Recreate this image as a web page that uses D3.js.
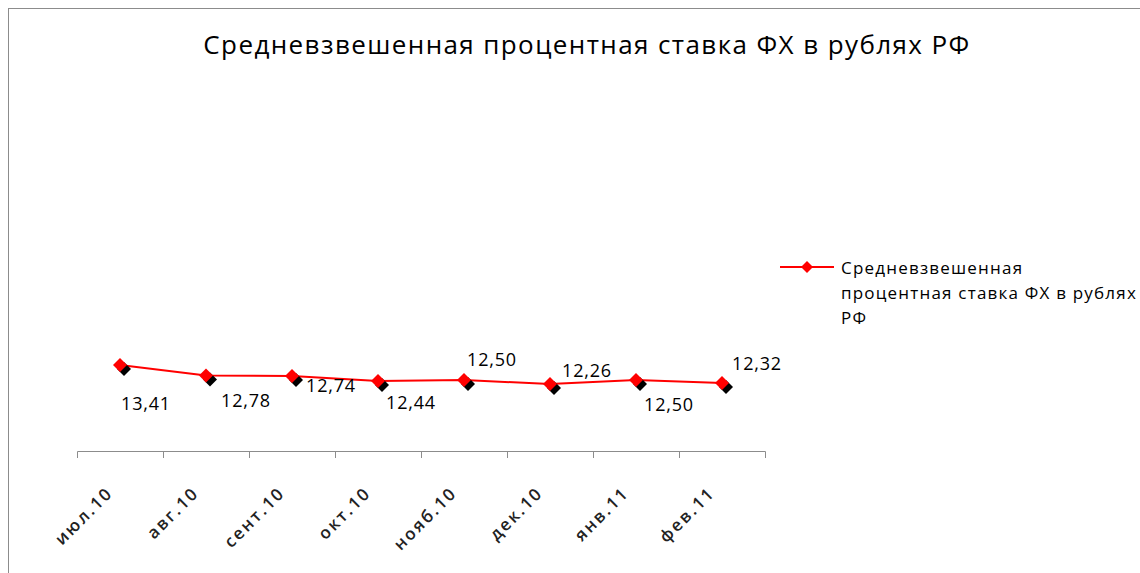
<!DOCTYPE html>
<html>
<head>
<meta charset="utf-8">
<script src="https://cdn.jsdelivr.net/npm/d3@7"></script>
<style>
  body { margin: 0; background: #fff; }
  svg { display: block; font-family: "Open Sans", sans-serif; }
</style>
</head>
<body>
<svg></svg>
<script>
let months = ["июл.10", "авг.10", "сент.10", "окт.10", "нояб.10", "дек.10", "янв.11", "фев.11"];
let rates = [13.41, 12.78, 12.74, 12.44, 12.50, 12.26, 12.50, 12.32];
let labelTexts = ["13,41", "12,78", "12,74", "12,44", "12,50", "12,26", "12,50", "12,32"];
let seriesName = ["Средневзвешенная", "процентная ставка ФХ в рублях", "РФ"];
let title = "Средневзвешенная процентная ставка ФХ в рублях РФ";

// where each data label sits relative to its point (as in the original)
let labelOffsets = [[26, 45], [40, 32], [39, 16], [33, 28], [28, -14], [37, -7], [33, 31], [35, -13]];

let width = 1140;
let height = 573;
let axisY = 451;

let svg = d3.select("svg")
    .attr("width", width)
    .attr("height", height);

// outer chart border (right/bottom go past the window)
svg.append("rect")
    .attr("x", 8.5)
    .attr("y", 8.5)
    .attr("width", width + 10)
    .attr("height", height + 10)
    .attr("fill", "none")
    .attr("stroke", "#8c8c8c")
    .attr("stroke-width", 1);

svg.append("text")
    .attr("x", 587)
    .attr("y", 54)
    .attr("text-anchor", "middle")
    .attr("font-size", 26)
    .attr("letter-spacing", 1.4)
    .attr("fill", "#000")
    .text(title);

let xScale = d3.scaleBand()
    .domain(months)
    .range([77, 765])
    .padding(0);

let yScale = d3.scaleLinear()
    .domain([8.2, 13.41])
    .range([axisY, 365]);

// x axis
let xAxis = d3.axisBottom(xScale).tickSize(0).tickSizeOuter(7);
let gx = svg.append("g")
    .attr("transform", "translate(0," + axisY + ")")
    .call(xAxis);
gx.select(".domain").attr("stroke", "#8c8c8c");
gx.selectAll(".tick text")
    .attr("font-family", "Open Sans")
    .attr("font-size", 17)
    .attr("font-weight", 600)
    .attr("letter-spacing", 2.2)
    .attr("fill", "#222")
    .attr("text-anchor", "end")
    .attr("dy", 0)
    .attr("transform", "translate(-6,43) rotate(-45)")
    .attr("y", 0);

// tick marks on category boundaries
svg.append("g")
    .selectAll("line")
    .data(months.slice(1))
    .enter()
    .append("line")
    .attr("x1", (d) => xScale(d) + 0.5)
    .attr("x2", (d) => xScale(d) + 0.5)
    .attr("y1", axisY)
    .attr("y2", axisY + 7)
    .attr("stroke", "#8c8c8c");

let cx = (i) => xScale(months[i]) + xScale.bandwidth() / 2;

let line = d3.line()
    .x((d, i) => cx(i))
    .y((d) => yScale(d));

svg.append("path")
    .datum(rates)
    .attr("d", line)
    .attr("fill", "none")
    .attr("stroke", "#ff0000")
    .attr("stroke-width", 2);

let diamond = (r) => "M0," + (-r) + "L" + r + ",0L0," + r + "L" + (-r) + ",0Z";

// shadow then marker
svg.append("g")
    .selectAll("path")
    .data(rates)
    .enter()
    .append("path")
    .attr("d", diamond(7))
    .attr("transform", (d, i) => "translate(" + (cx(i) + 4) + "," + (yScale(d) + 4) + ")")
    .attr("fill", "#000");

svg.append("g")
    .selectAll("path")
    .data(rates)
    .enter()
    .append("path")
    .attr("d", diamond(7))
    .attr("transform", (d, i) => "translate(" + cx(i) + "," + yScale(d) + ")")
    .attr("fill", "#ff0000");

svg.append("g")
    .selectAll("text")
    .data(rates)
    .enter()
    .append("text")
    .attr("x", (d, i) => cx(i) + labelOffsets[i][0])
    .attr("y", (d, i) => yScale(d) + labelOffsets[i][1])
    .attr("text-anchor", "middle")
    .attr("font-size", 18)
    .attr("letter-spacing", 0.8)
    .attr("fill", "#000")
    .text((d, i) => labelTexts[i]);

// legend
let legend = svg.append("g");
legend.append("line")
    .attr("x1", 780)
    .attr("x2", 834)
    .attr("y1", 267)
    .attr("y2", 267)
    .attr("stroke", "#ff0000")
    .attr("stroke-width", 2);
legend.append("path")
    .attr("d", diamond(6))
    .attr("transform", "translate(807,267)")
    .attr("fill", "#ff0000");
legend.selectAll("text")
    .data(seriesName)
    .enter()
    .append("text")
    .attr("x", 841)
    .attr("y", (d, i) => 274 + i * 25)
    .attr("font-size", 17)
    .attr("letter-spacing", 1.2)
    .attr("fill", "#000")
    .text((d) => d);
</script>
</body>
</html>
